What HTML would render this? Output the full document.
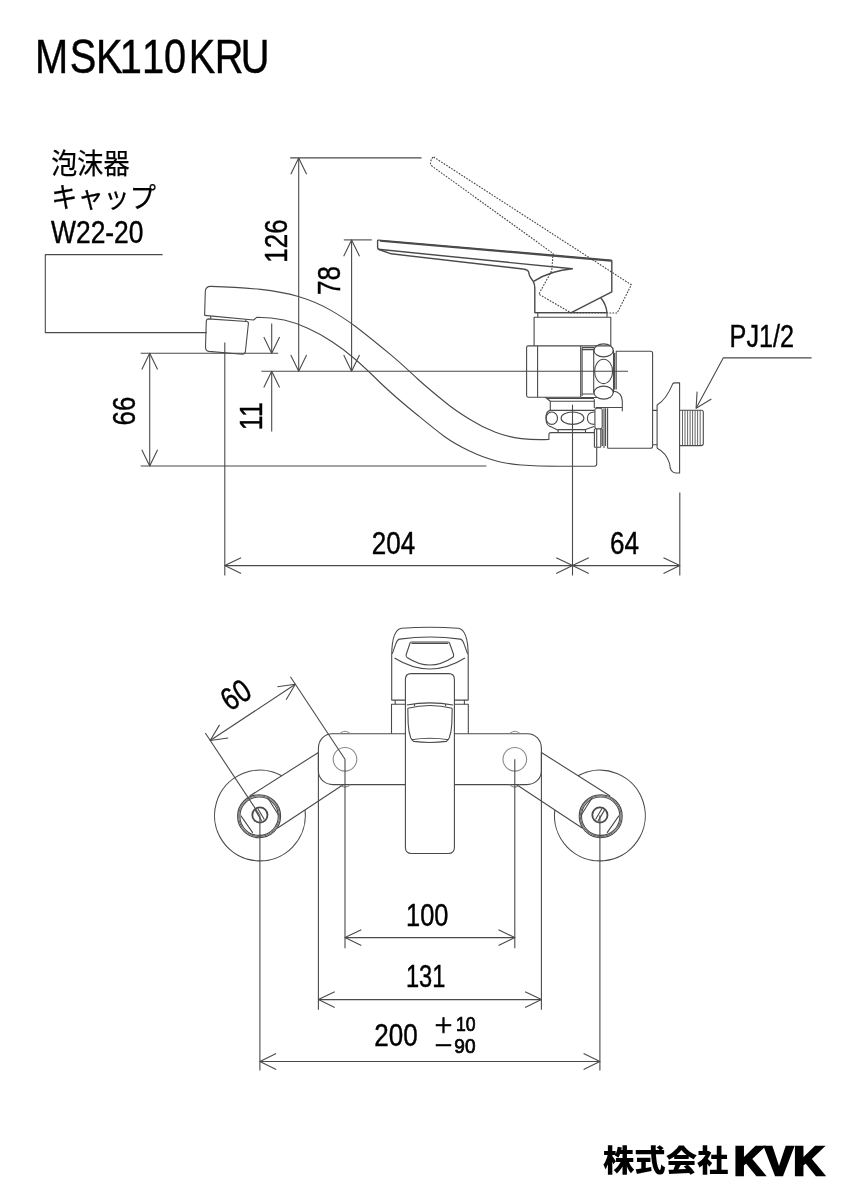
<!DOCTYPE html>
<html lang="ja"><head><meta charset="utf-8"><title>MSK110KRU</title>
<style>
html,body{margin:0;padding:0;background:#fff;}
body{width:849px;height:1200px;overflow:hidden;}
svg{display:block;will-change:transform;}
svg line,svg path,svg circle,svg ellipse,svg rect,svg polygon{fill:none;stroke:#4a4a4a;stroke-width:1.1;stroke-linecap:butt;stroke-linejoin:round;}
svg .d{stroke-dasharray:1.7 1.3;stroke-width:1.1;stroke:#444;}
svg .g{stroke:#8a8a8a;}
svg .k{stroke-width:1.8;}
svg .t{stroke-width:0.85;}
svg .h{stroke-width:1.4;}
svg text{font-family:"Liberation Sans","Noto Sans CJK JP",sans-serif;fill:#000;stroke:#000;stroke-width:0.45;}
svg text.j{stroke-width:0.25;}
svg text.jp{stroke-width:0.7;}
svg text.b{font-weight:900;stroke:none;}
svg text.kvk{font-weight:bold;stroke:#000;stroke-width:2.3;stroke-linejoin:miter;}
</style></head><body>
<svg width="849" height="1200" viewBox="0 0 849 1200">
<text transform="translate(0 72.6) scale(0.84 1)" y="0" font-size="47.4" x="41.7 83.0 114.2 142.7 169.1 195.3 224.7 255.6 286.7">MSK110KRU</text>
<text x="51.2" y="173.9" font-size="28.2" textLength="78.4" lengthAdjust="spacingAndGlyphs" class="j">泡沫器</text>
<text x="51.2" y="207.9" font-size="28.6" textLength="104.8" lengthAdjust="spacingAndGlyphs" class="j">キャップ</text>
<text x="51.0" y="243.2" font-size="32" textLength="92.5" lengthAdjust="spacingAndGlyphs">W22-20</text>
<text x="729.6" y="346.8" font-size="32" textLength="64.5" lengthAdjust="spacingAndGlyphs">PJ1/2</text>
<text x="393.5" y="554.4" font-size="32" textLength="43.4" lengthAdjust="spacingAndGlyphs" text-anchor="middle">204</text>
<text x="624.6" y="554.4" font-size="32" textLength="29.0" lengthAdjust="spacingAndGlyphs" text-anchor="middle">64</text>
<text x="287.0" y="241.0" font-size="32" textLength="43.4" lengthAdjust="spacingAndGlyphs" text-anchor="middle" transform="rotate(-90 287.0 241.0)">126</text>
<text x="340.2" y="280.5" font-size="32" textLength="29.0" lengthAdjust="spacingAndGlyphs" text-anchor="middle" transform="rotate(-90 340.2 280.5)">78</text>
<text x="135.4" y="411.0" font-size="32" textLength="29.0" lengthAdjust="spacingAndGlyphs" text-anchor="middle" transform="rotate(-90 135.4 411.0)">66</text>
<text x="262.2" y="416.3" font-size="32" textLength="28.4" lengthAdjust="spacingAndGlyphs" text-anchor="middle" transform="rotate(-90 262.2 416.3)">11</text>
<text x="235.5" y="694.5" font-size="32" textLength="29.0" lengthAdjust="spacingAndGlyphs" text-anchor="middle" transform="rotate(-33.5 235.5 694.5)" dy="11.3">60</text>
<text x="427.2" y="925.9" font-size="32" textLength="42.4" lengthAdjust="spacingAndGlyphs" text-anchor="middle">100</text>
<text x="425.6" y="987.4" font-size="32" textLength="39.4" lengthAdjust="spacingAndGlyphs" text-anchor="middle">131</text>
<text x="396.0" y="1045.6" font-size="32" textLength="43.4" lengthAdjust="spacingAndGlyphs" text-anchor="middle">200</text>
<text x="433.2" y="1032.8" font-size="20.5" class="jp">＋</text>
<text x="455.9" y="1031.3" font-size="19.8" textLength="19.6" lengthAdjust="spacingAndGlyphs" class="jp">10</text>
<text x="433.2" y="1053.2" font-size="20.5" class="jp">－</text>
<text x="454.3" y="1052.5" font-size="19.8" textLength="21.2" lengthAdjust="spacingAndGlyphs" class="jp">90</text>
<text x="603.0" y="1171.2" font-size="29.8" textLength="125.4" lengthAdjust="spacingAndGlyphs" class="b">株式会社</text>
<text x="733.8" y="1174.6" font-size="41.0" textLength="90.2" lengthAdjust="spacingAndGlyphs" class="kvk">KVK</text>
<path d="M162.6 254.6H45.3V332.6H206.7"/>
<line x1="140.7" y1="353.3" x2="278.3" y2="353.3"/>
<line x1="140.7" y1="466.0" x2="486.4" y2="466.0"/>
<line x1="149.7" y1="353.3" x2="149.7" y2="466.0"/>
<path d="M157.6 369.6L149.7 353.3L141.8 369.6"/>
<path d="M141.8 449.7L149.7 466.0L157.6 449.7"/>
<line x1="271.7" y1="323.6" x2="271.7" y2="353.3"/>
<line x1="271.7" y1="371.3" x2="271.7" y2="431.5"/>
<path d="M263.8 337.0L271.7 353.3L279.6 337.0"/>
<path d="M279.6 387.6L271.7 371.3L263.8 387.6"/>
<line x1="261.4" y1="371.3" x2="628.0" y2="371.3"/>
<line x1="290.2" y1="157.9" x2="421.5" y2="157.9"/>
<line x1="298.7" y1="157.9" x2="298.7" y2="371.3"/>
<path d="M306.6 174.2L298.7 157.9L290.8 174.2"/>
<path d="M290.8 355.0L298.7 371.3L306.6 355.0"/>
<line x1="343.8" y1="239.9" x2="371.8" y2="239.9"/>
<line x1="351.6" y1="239.9" x2="351.6" y2="371.3"/>
<path d="M359.5 256.2L351.6 239.9L343.7 256.2"/>
<path d="M343.7 355.0L351.6 371.3L359.5 355.0"/>
<line x1="224.8" y1="342.5" x2="224.8" y2="575.5"/>
<line x1="572.5" y1="404.7" x2="572.5" y2="575.5"/>
<line x1="679.8" y1="492.5" x2="679.8" y2="575.5"/>
<line x1="224.8" y1="565.6" x2="679.8" y2="565.6"/>
<path d="M241.1 557.7L224.8 565.6L241.1 573.5"/>
<path d="M556.2 573.5L572.5 565.6L556.2 557.7"/>
<path d="M588.8 557.7L572.5 565.6L588.8 573.5"/>
<path d="M663.5 573.5L679.8 565.6L663.5 557.7"/>
<path d="M811.6 357.9H723.2L696.1 408.3"/>
<path d="M697.1 391.6L696.1 408.3L711.4 399"/>
<path d="M204.6 315.4L205.3 291.5Q205.6 286.2 211 286.4C232 287 247 288 260.7 289.4C275 291 287 293.3 298.4 296.5C310 300 321 304.5 331.3 310.6C340 315.5 348 321 354.9 326C368 336 379 345 391.8 355.7C400 362.5 409 371 417.7 379C426 386.5 435 394 443.7 401C452 408 461 414 469.6 419.2C478 424.5 487 429 495.5 432.2C504 435.5 513 437.5 521.4 438.6C530 439.6 540 439.8 548.9 439.4V434.4Q549 432.6 551 432.6H594.4"/>
<path d="M204.6 315.4L253.6 320L257 317.2C266 317.2 275 318 284.2 320C292 321.8 300 324.5 307.8 328.3C316 332 324 336.5 331.3 341.3C339.5 346.5 347.5 352.6 354.9 359C363 366 372 374.5 380 382.5C392 394 405 405 417.7 415.3C426.5 422.5 435 429.5 443.7 436C452 442 461 447 469.6 451C478 455 487 458.5 495.5 460.7C504 463 513 464.3 521.4 465C535 466 548 466.2 560 466.2H594.5Q596.7 466.2 596.7 464V447.5"/>
<path d="M208.3 318.9Q206.4 319 206.3 321L205.5 347Q205.5 351 209 351.4L242 354.2Q245 354.4 245.4 351.5L248.4 323.5Q248.6 321.7 246.8 321.5Z"/>
<line x1="210.7" y1="316.0" x2="210.7" y2="319.0"/>
<line x1="245.8" y1="319.3" x2="245.8" y2="321.5"/>
<path d="M378.6 240.1L611.3 260.1Q611.8 260.2 611.8 261V291.9L571.3 312.6H534.8V288Q534.8 284 533.2 281.3Q529 276 528.9 273Q528.5 269.5 523 269L391.2 253.8L379 249.5Q377.6 249 377.6 247.5V241Q377.6 240 378.6 240.1Z" class="h"/>
<path d="M380 240.9L611 260.8" class="k"/>
<path d="M378.2 249.3L572.4 268.8Q551.2 270.5 533.6 281.3" class="h"/>
<path d="M600.7 297.8Q606 304 607 312.6" class="h"/>
<line x1="534.8" y1="312.6" x2="607.0" y2="312.6"/>
<line x1="537.8" y1="312.6" x2="537.8" y2="317.2"/>
<line x1="607.0" y1="312.6" x2="607.0" y2="317.2"/>
<path d="M433.6 157L631.3 284.8L617.2 313H571.3L538.8 294.2L551.7 270.7L553.1 253.5L432.5 166.5Q429.5 164 430.8 161Q432 157.5 433.6 157Z" class="d"/>
<path d="M534.1 345.9V317.2H610.8V345.9"/>
<path d="M580.7 345.9H528.2Q526.6 345.9 526.6 347.5V395.6Q526.6 397.2 528.2 397.2H580.7Z"/>
<line x1="537.6" y1="345.9" x2="537.6" y2="397.2"/>
<path d="M580.7 345.9H610.8M580.7 397.5H597"/>
<path d="M582.1 347.6H594M582.1 349.6H594M582.1 347.6V396M582.1 394H594"/>
<line x1="593.7" y1="350.0" x2="593.7" y2="393.0"/>
<line x1="613.5" y1="350.0" x2="613.5" y2="393.0"/>
<ellipse cx="603.6" cy="350.4" rx="9.6" ry="6.5"/>
<ellipse cx="603.6" cy="371.4" rx="9" ry="12.2"/>
<ellipse cx="603.6" cy="392.6" rx="9.6" ry="6.5"/>
<path d="M614.6 353V389.4M616.2 389.4V351.2H650.6Q652.6 351.2 652.6 353.2V446.3Q652.6 448.3 650.6 448.3H607.6"/>
<path d="M613 391Q621.8 392 622.3 401V411.2"/>
<path d="M594.3 399.3V408M595.6 407.5H622.3"/>
<path d="M545.4 397.2L550.3 401.2H594.2M547 398.4H594M550.3 401.2V410.4H594.6"/>
<path d="M550.3 410.4Q546 411 546 418Q546 425.5 550.5 426.6L558.1 430.3"/>
<ellipse cx="551.8" cy="418.2" rx="5.7" ry="6.2"/>
<ellipse cx="572.5" cy="418.2" rx="11.4" ry="6.2"/>
<path d="M594.4 412Q587.4 412.3 587.4 418.2Q587.4 424.2 594.4 424.4"/>
<path d="M558.1 429.6H585.5L594 426.6M558.1 432.4V429.6M585.5 429.6V432.4"/>
<rect x="594.9" y="408.3" width="7.3" height="20.6" rx="2"/>
<path d="M594.4 428.9V447.3M596.7 428.9V447.3M594.4 447.3H600.8M600.8 428.9V447.3M602.3 428.9V446M604 408.3V448M605.6 408.3V446M607.6 408.3V448.3"/>
<path d="M652.6 410.4H657.1M652.6 444.8H657.1"/>
<path d="M657.1 448.3V405Q666 400 672.7 383.9Q673.3 382.9 674.8 382.9H679.6V473H675.5Q670 472.5 669.6 463.6Q666 452.5 657.1 448.3"/>
<path d="M679.6 410.2H701.2Q703.3 410.2 703.3 412.2V443.6Q703.3 445.6 701.2 445.6H679.6"/>
<line x1="682.5" y1="410.2" x2="682.5" y2="445.6" class="t"/>
<line x1="685.0" y1="410.2" x2="685.0" y2="445.6" class="t"/>
<line x1="687.6" y1="410.2" x2="687.6" y2="445.6" class="t"/>
<line x1="690.1" y1="410.2" x2="690.1" y2="445.6" class="t"/>
<line x1="692.6" y1="410.2" x2="692.6" y2="445.6" class="t"/>
<line x1="695.1" y1="410.2" x2="695.1" y2="445.6" class="t"/>
<line x1="697.6" y1="410.2" x2="697.6" y2="445.6" class="t"/>
<line x1="700.2" y1="410.2" x2="700.2" y2="445.6" class="t"/>
<circle cx="259.1" cy="816.2" r="21.5"/>
<circle cx="259.1" cy="816.2" r="20.4" class="t"/>
<circle cx="259.1" cy="816.2" r="19.2"/>
<circle cx="259.9" cy="815.0" r="7.6" class="k"/>
<circle cx="600.7" cy="816.2" r="21.5"/>
<circle cx="600.7" cy="816.2" r="20.4" class="t"/>
<circle cx="600.7" cy="816.2" r="19.2"/>
<circle cx="599.9" cy="815.0" r="7.6" class="k"/>
<path d="M281.8 775.7A45.4 45.4 0 1 0 305.0 810.0"/>
<path d="M578.0 775.7A45.4 45.4 0 1 1 554.8 810.0"/>
<path d="M581.1 815.2L592.2 797.7M619 815.6L607 832.9"/>
<path d="M278.7 815.2L267.6 797.7M240.8 815.6L252.8 832.9"/>
<path d="M257.8 808.5L264.3 819.5M255.3 810.1L261.8 821.1"/>
<path d="M602.0 808.5L595.5 819.5M604.5 810.1L598.0 821.1"/>
<path d="M249.7 796L318.4 752.5M277.3 828.2L343.1 784.8"/>
<path d="M610.1 796L541.4 752.5M582.5 828.2L516.7 784.8"/>
<path d="M405.4 733.7H332.2A13.8 14.5 0 0 0 318.4 748.2V771A14.6 13.6 0 0 0 333 784.6H405.4"/>
<path d="M454.4 733.7H527.6A13.8 14.5 0 0 1 541.4 748.2V771A14.6 13.6 0 0 1 526.8 784.6H454.4"/>
<circle cx="345.0" cy="759.3" r="11.8" class="g"/>
<circle cx="514.8" cy="759.3" r="11.8" class="g"/>
<path d="M339.7 733.7Q345.0 728.9 350.3 733.7" class="g"/>
<path d="M339.7 784.6Q345.0 789.6 350.3 784.6" class="g"/>
<path d="M509.5 733.7Q514.8 728.9 520.1 733.7" class="g"/>
<path d="M509.5 784.6Q514.8 789.6 520.1 784.6" class="g"/>
<path d="M405.4 733.6V679.4Q405.4 673.6 411.2 673.6H448.6Q454.4 673.6 454.4 679.4V847.5Q454.4 853.5 448.4 853.5H411.4Q405.4 853.5 405.4 847.5V733.6"/>
<path d="M405.4 700.1H391.7V655C391.8 643 393.2 629.6 401.5 628.2Q430 626.4 458.4 628.2C466.7 629.6 468.1 643 468.2 655V700.1H454.4"/>
<path d="M392.2 653.9L395.6 644.4Q397 639.6 399.6 639.1Q430 635 460.2 639.1Q462.8 639.6 464.2 644.4L467.6 653.9"/>
<path d="M394.5 658Q430 680 464.9 658"/>
<path d="M411.4 642H448.2Q449.3 642 449.6 643.2L453.6 654.5Q454 656.5 452.5 657.5Q430 672.5 407 657.5Q405.6 656.5 406.2 654.5L410 643.2Q410.4 642 411.4 642Z"/>
<path d="M411.5 643.4H448.2"/>
<path d="M391.5 733.6V704.3H405.4M454.4 704.3H468.3V733.6"/>
<line x1="395.2" y1="700.1" x2="395.2" y2="704.3"/>
<line x1="464.4" y1="700.1" x2="464.4" y2="704.3"/>
<path d="M406.7 705Q430 700.8 453.1 705"/>
<path d="M407.8 708.3Q430 702.8 452.2 708.3"/>
<path d="M407.8 708.3L408.2 724Q408.6 732 410.8 738L413.5 741.4Q430 743.6 446.5 741.4L449.2 738Q451.4 732 451.8 724L452.2 708.3"/>
<path d="M411.2 739.8Q430 736.8 448.7 739.8"/>
<line x1="414.5" y1="703.9" x2="414.5" y2="706.2"/>
<line x1="445.6" y1="703.9" x2="445.6" y2="706.2"/>
<line x1="259.9" y1="815.5" x2="205.3" y2="733.0"/>
<line x1="345.0" y1="759.3" x2="290.4" y2="676.8"/>
<line x1="210.2" y1="740.5" x2="295.3" y2="684.3"/>
<path d="M219.5 724.9L210.2 740.5L228.2 738.0"/>
<path d="M286.1 699.8L295.3 684.3L277.4 686.7"/>
<line x1="345.0" y1="759.3" x2="345.0" y2="948.2"/>
<line x1="514.8" y1="759.3" x2="514.8" y2="948.2"/>
<line x1="345.0" y1="937.6" x2="514.8" y2="937.6"/>
<path d="M361.3 929.7L345.0 937.6L361.3 945.5"/>
<path d="M498.5 945.5L514.8 937.6L498.5 929.7"/>
<line x1="318.4" y1="752.5" x2="318.4" y2="1009.8"/>
<line x1="541.4" y1="752.5" x2="541.4" y2="1009.8"/>
<line x1="318.4" y1="999.6" x2="541.4" y2="999.6"/>
<path d="M334.7 991.7L318.4 999.6L334.7 1007.5"/>
<path d="M525.1 1007.5L541.4 999.6L525.1 991.7"/>
<line x1="259.9" y1="815.5" x2="259.9" y2="1070.6"/>
<line x1="599.9" y1="815.5" x2="599.9" y2="1070.6"/>
<line x1="259.9" y1="1061.5" x2="599.9" y2="1061.5"/>
<path d="M276.2 1053.6L259.9 1061.5L276.2 1069.4"/>
<path d="M583.6 1069.4L599.9 1061.5L583.6 1053.6"/>
</svg>
</body></html>
